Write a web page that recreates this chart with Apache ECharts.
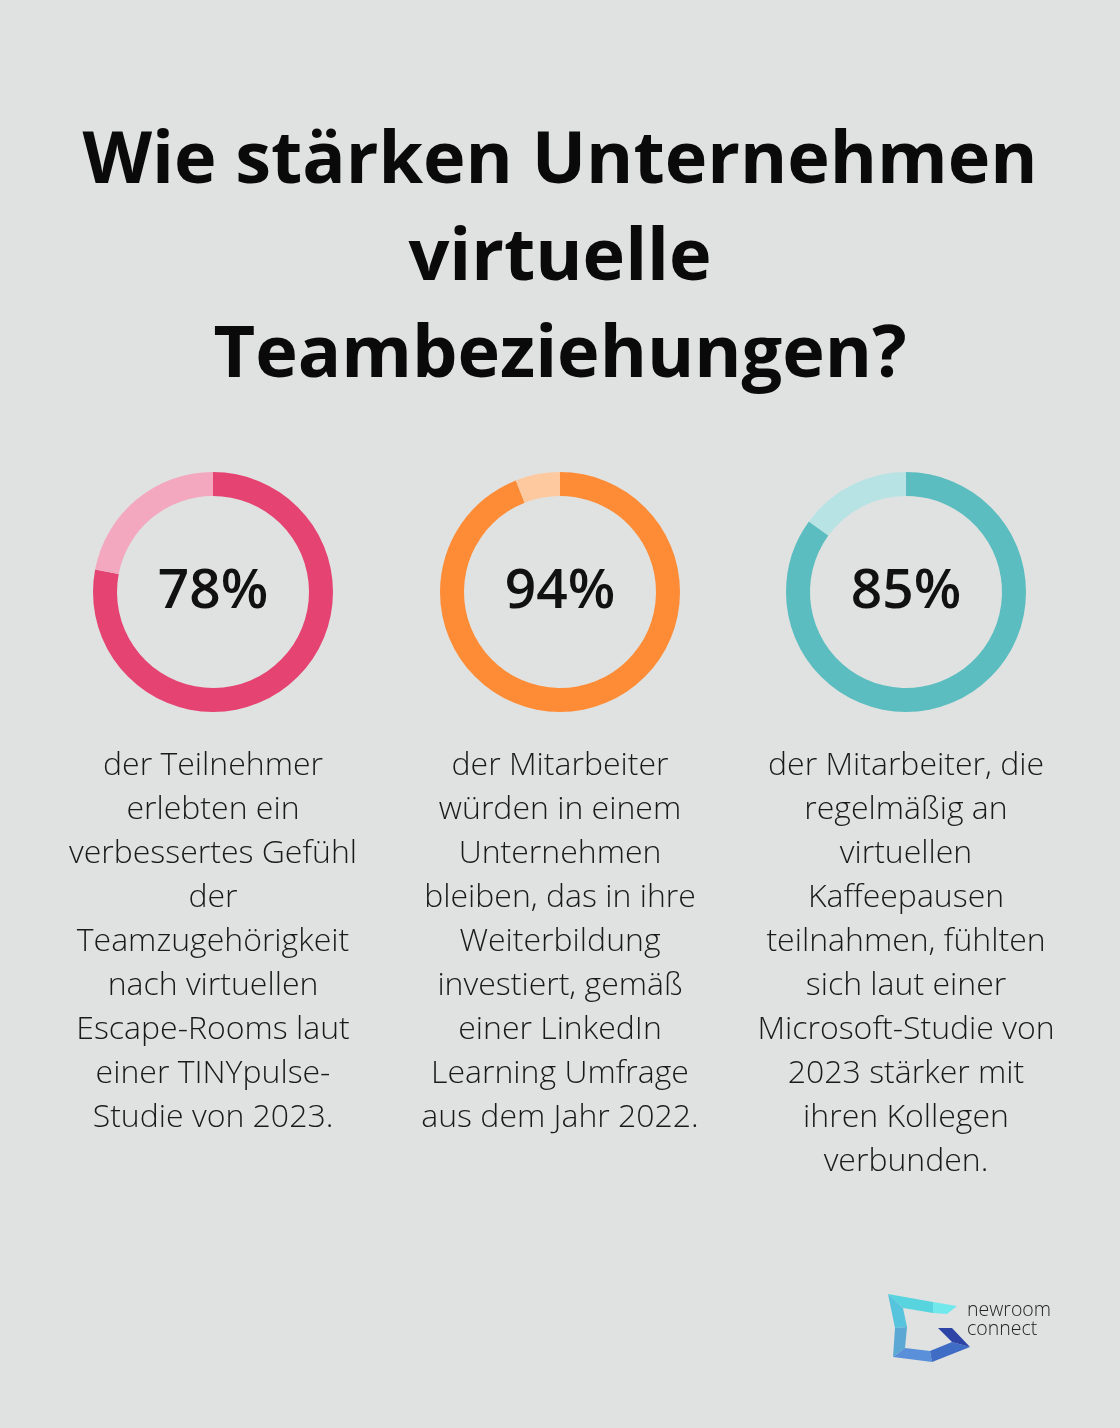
<!DOCTYPE html>
<html>
<head>
<meta charset="utf-8">
<script src="https://cdn.jsdelivr.net/npm/echarts@6/dist/echarts.min.js"></script>
<style>
html,body{margin:0;padding:0;background:#e0e2e1;}
#c{width:1120px;height:1428px;}
</style>
</head>
<body>
<div id="c"></div>
<script>
const titleLines = ["Wie stärken Unternehmen", "virtuelle", "Teambeziehungen?"];
const values = [78, 94, 85];
const mainColors = ["#e54473", "#fe8c36", "#5bbdbf"];
const lightColors = ["#f4a8c0", "#ffc9a0", "#b8e3e4"];
const descriptions = [
  ["der Teilnehmer", "erlebten ein", "verbessertes Gefühl", "der", "Teamzugehörigkeit", "nach virtuellen", "Escape-Rooms laut", "einer TINYpulse-", "Studie von 2023."],
  ["der Mitarbeiter", "würden in einem", "Unternehmen", "bleiben, das in ihre", "Weiterbildung", "investiert, gemäß", "einer LinkedIn", "Learning Umfrage", "aus dem Jahr 2022."],
  ["der Mitarbeiter, die", "regelmäßig an", "virtuellen", "Kaffeepausen", "teilnahmen, fühlten", "sich laut einer", "Microsoft-Studie von", "2023 stärker mit", "ihren Kollegen", "verbunden."]
];
const logoLines = ["newroom", "connect"];

const centersX = [213, 560, 906];
const chart = echarts.init(document.getElementById('c'));
const FONT = '"Open Sans", "Noto Sans", sans-serif';

const series = values.map((v, i) => ({
  type: 'pie',
  center: [centersX[i], 592],
  radius: [96, 120],
  startAngle: 90,
  clockwise: true,
  silent: true,
  animation: false,
  label: { show: false },
  labelLine: { show: false },
  itemStyle: { borderWidth: 0 },
  data: [
    { value: v, itemStyle: { color: mainColors[i] },
      label: { show: true, position: 'center', formatter: '{c}%', color: '#111', fontSize: 55, fontWeight: 600, fontFamily: FONT } },
    { value: 100 - v, itemStyle: { color: lightColors[i] }, label: { show: false } }
  ]
}));

const graphics = [];
titleLines.forEach((t, i) => {
  graphics.push({ type: 'text', x: 560, y: 162 + i * 97, style: { text: t, fill: '#0a0a0a', font: '700 72px ' + FONT, textAlign: 'center', textVerticalAlign: 'middle' } });
});
descriptions.forEach((lines, i) => {
  lines.forEach((t, j) => {
    graphics.push({ type: 'text', x: centersX[i], y: 766 + j * 44, style: { text: t, fill: '#1a1a1a', font: '300 32px ' + FONT, textAlign: 'center', textVerticalAlign: 'middle' } });
  });
});
// logo mark
const polys = [
  { pts: [[888,1294],[933,1302],[933,1313],[903,1308]], c: '#58d4df' },
  { pts: [[933,1302],[957,1306],[947,1314],[933,1313]], c: '#70e8ec' },
  { pts: [[888,1294],[903,1308],[907,1327],[895,1328]], c: '#56c4dc' },
  { pts: [[895,1328],[907,1327],[905,1348],[893,1357]], c: '#5aa8d3' },
  { pts: [[893,1357],[905,1348],[930,1351],[932,1362]], c: '#5a8fd9' },
  { pts: [[930,1351],[952,1342],[970,1347],[932,1362]], c: '#3f6cc4' },
  { pts: [[938,1328],[952,1328],[970,1347],[952,1342]], c: '#2d44a6' }
];
polys.forEach(p => graphics.push({ type: 'polygon', shape: { points: p.pts }, style: { fill: p.c } }));
logoLines.forEach((t, i) => {
  graphics.push({ type: 'text', x: 967, y: 1310 + i * 19, style: { text: t, fill: '#222', font: '300 19.5px ' + FONT, textAlign: 'left', textVerticalAlign: 'middle' } });
});

chart.setOption({
  backgroundColor: '#e0e2e1',
  animation: false,
  series: series,
  graphic: graphics
});
</script>
</body>
</html>
